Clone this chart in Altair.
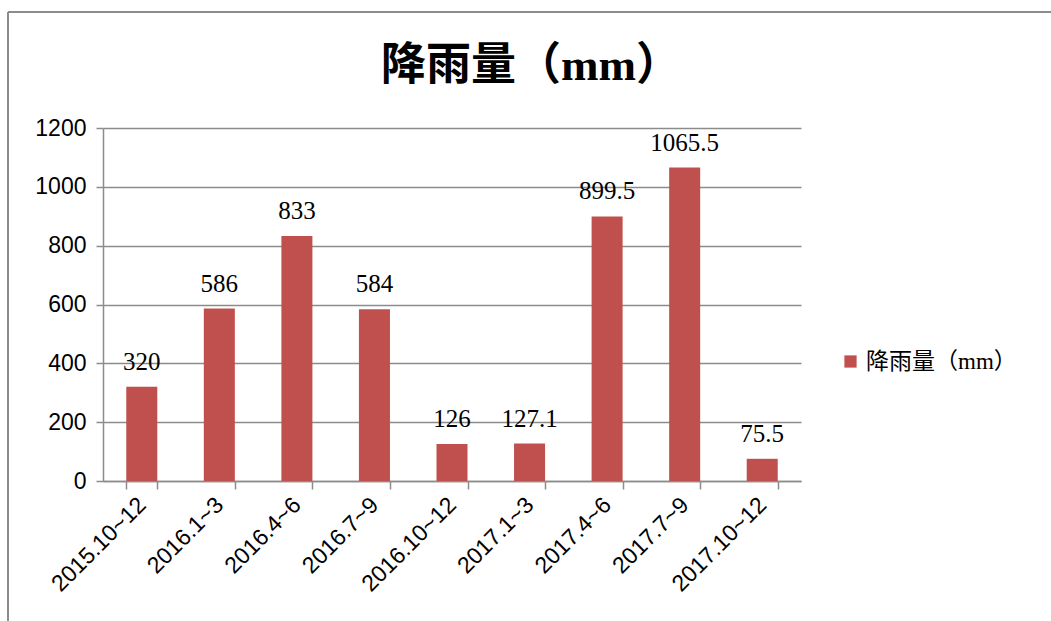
import altair as alt
import pandas as pd

categories = ["2015.10~12", "2016.1~3", "2016.4~6", "2016.7~9", "2016.10~12",
              "2017.1~3", "2017.4~6", "2017.7~9", "2017.10~12"]
values = [320, 586, 833, 584, 126, 127.1, 899.5, 1065.5, 75.5]
labels = ["320", "586", "833", "584", "126", "127.1", "899.5", "1065.5", "75.5"]
series = "降雨量（mm）"
y_ticks = [0, 200, 400, 600, 800, 1000, 1200]

df = pd.DataFrame({"cat": categories, "val": values, "lab": labels, "series": series})
title_df = pd.DataFrame({"t": [series]})

GRAY = "#8c8c8c"
SERIF = "Liberation Serif, Noto Sans CJK SC"
SANS = "Liberation Sans"

x = alt.X("cat:N", sort=categories, title=None,
          scale=alt.Scale(paddingInner=0.6, paddingOuter=0.3),
          axis=alt.Axis(labelAngle=-45, labelFont=SANS, labelFontSize=23, labelColor="black",
                        labelAlign="right", labelBaseline="middle", labelPadding=12,
                        tickBand="extent", tickSize=8, tickColor=GRAY, tickWidth=1.5,
                        domainColor=GRAY, domainWidth=1.5))
y = alt.Y("val:Q", title=None,
          scale=alt.Scale(domain=[0, 1200]),
          axis=alt.Axis(values=y_ticks, format="d", labelFont=SANS, labelFontSize=23,
                        labelColor="black", labelPadding=10, tickSize=7, tickColor=GRAY,
                        tickWidth=1.5, domainColor=GRAY, domainWidth=1.5,
                        gridColor=GRAY, gridWidth=1.5))

bars = alt.Chart(df).mark_bar().encode(
    x=x, y=y,
    color=alt.Color("series:N", title=None,
                    scale=alt.Scale(range=["#C0504D"]),
                    legend=alt.Legend(orient="none", legendX=736, legendY=222,
                                      symbolType="square", symbolSize=150,
                                      symbolStrokeWidth=0, labelFont=SERIF,
                                      labelFontSize=23, labelColor="black")))

text = alt.Chart(df).mark_text(font=SERIF, fontSize=25, baseline="alphabetic", dy=-17,
                               color="black").encode(
    x=alt.X("cat:N", sort=categories), y="val:Q", text="lab:N")

title = alt.Chart(title_df).mark_text(font=SERIF, fontSize=45, fontWeight="bold",
                                      align="center", baseline="middle",
                                      color="black").encode(
    x=alt.value(428), y=alt.value(-62), text="t:N")

frame_top = alt.Chart(df).mark_rule(color=GRAY, strokeWidth=2).encode(
    x=alt.value(-95), x2=alt.value(960), y=alt.value(-116))
frame_left = alt.Chart(df).mark_rule(color=GRAY, strokeWidth=2).encode(
    x=alt.value(-95), y=alt.value(-116), y2=alt.value(520))

chart = alt.layer(bars, text, title, frame_top, frame_left).properties(
    width=698, height=353,
    autosize=alt.AutoSizeParams(type="none"),
    padding={"left": 103, "top": 128, "right": 250, "bottom": 140},
).configure_view(stroke=None)

chart.save("out.html", embed_options={"renderer": "svg", "actions": False})
